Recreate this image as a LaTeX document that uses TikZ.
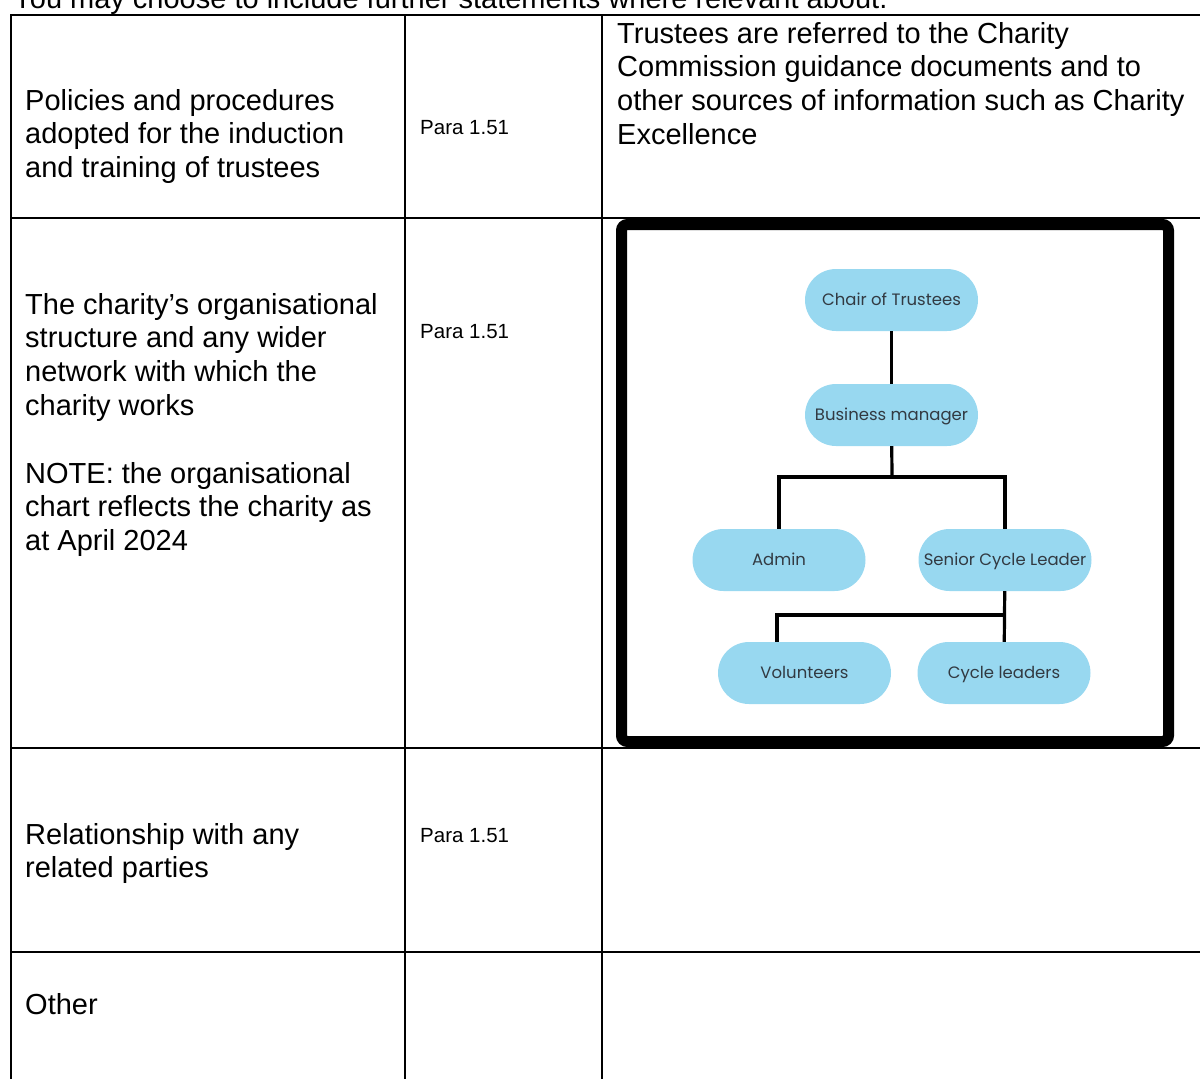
\documentclass[tikz,border=0pt]{standalone}
\usepackage{fontspec}
\setmainfont{Liberation Sans}
\newfontfamily\chartfont{Poppins}
\definecolor{pill}{RGB}{152,216,240}
\definecolor{pilltext}{RGB}{50,58,66}
\begin{document}
\begin{tikzpicture}[x=1pt,y=-1pt,
  cell/.style={anchor=base west,inner sep=0pt,align=left,font=\fontsize{29}{33.8}\selectfont},
  para/.style={anchor=base west,inner sep=0pt,font=\fontsize{20.5}{24}\selectfont},
  role/.style={fill=pill,rounded corners=31pt,minimum width=173pt,minimum height=62pt,inner sep=0pt,text height=11.5pt,text depth=0pt,text=pilltext,font=\chartfont\fontsize{16.5}{19}\selectfont},
  link/.style={line width=3.2pt},
  gridline/.style={line width=1.8pt}]
\useasboundingbox (0,0) rectangle (1200,1079);
% table rules
\draw[gridline] (1220,15) -- (11,15) -- (11,1100);
\draw[gridline] (405,15) -- (405,1100);
\draw[gridline] (602,15) -- (602,1100);
\foreach \y in {218,748,952} \draw[gridline] (11,\y) -- (1220,\y);
% picture frame
\draw[line width=11pt,rounded corners=6pt] (621.5,224.5) rectangle (1168.5,741.5);
% texts (base = last line)
\node (intro) [cell] at (13,8) {You may choose to include further statements where relevant about.};
\node (induct) [cell] at (25,177.6) {Policies and procedures\\adopted for the induction\\and training of trustees};
\node (para1) [para] at (420,134) {Para 1.51};
\node (guide) [cell] at (617,144.4) {Trustees are referred to the Charity\\Commission guidance documents and to\\other sources of information such as Charity\\Excellence};
\node (struct) [cell] at (25,550.6) {The charity’s organisational\\structure and any wider\\network with which the\\charity works\\[33.8pt]NOTE: the organisational\\chart reflects the charity as\\at April 2024};
\node (para2) [para] at (420,338) {Para 1.51};
\node (related) [cell] at (25,877.8) {Relationship with any\\related parties};
\node (para3) [para] at (420,842) {Para 1.51};
\node (other) [cell] at (25,1014) {Other};
% org chart
\node (chair) [role] at (891.5,300) {Chair of Trustees};
\node (bm) [role] at (891.5,415) {Business manager};
\node (admin) [role] at (779,560) {Admin};
\node (scl) [role] at (1005,560) {Senior Cycle Leader};
\node (vol) [role] at (804.5,673) {Volunteers};
\node (cyc) [role] at (1004,673) {Cycle leaders};
\coordinate (split1) at (892,477);
\coordinate (split2) at (1004.5,615);
\draw[link] (chair) -- (bm);
\draw[link] (bm) -- (split1);
\draw[link] (admin) |- (split1) -| (scl);
\draw[link] (scl) -- (cyc);
\draw[link] (split2) -| ([xshift=-27.5pt]vol.north);
\end{tikzpicture}
\end{document}
